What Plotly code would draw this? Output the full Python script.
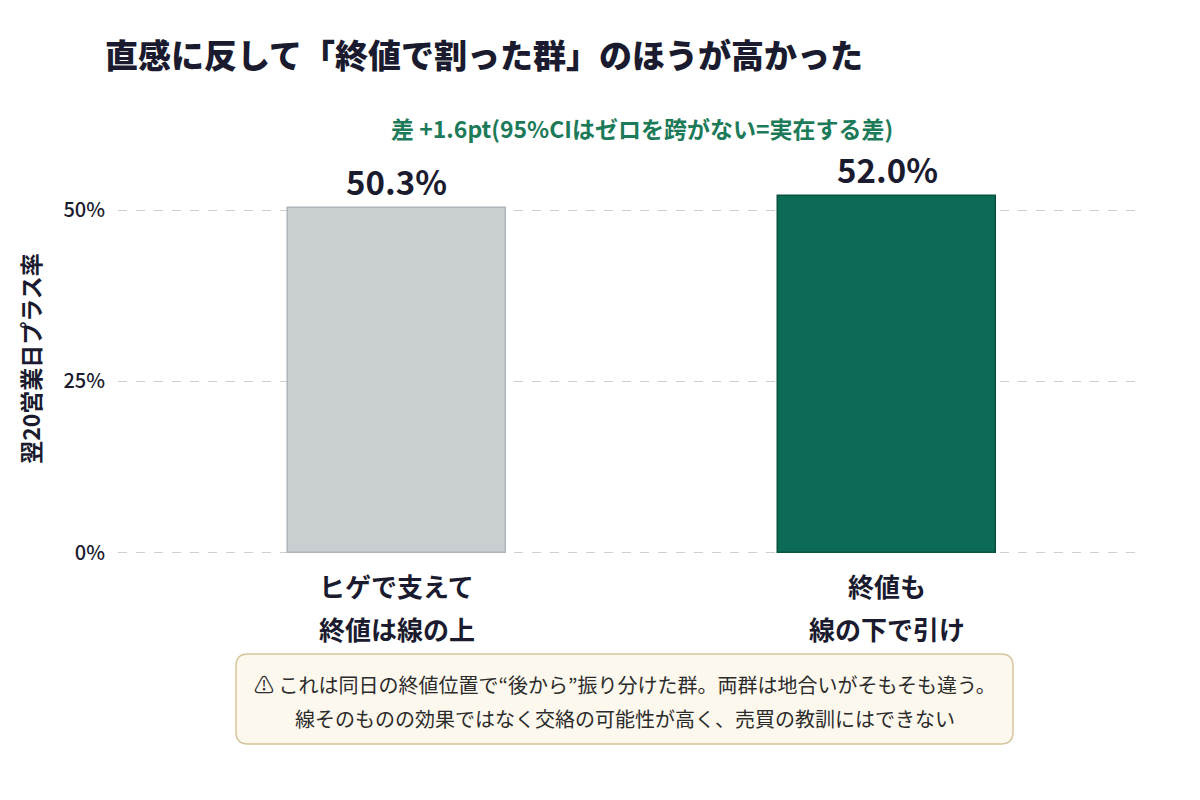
import plotly.graph_objects as go

# ---- data ----
categories = ["ヒゲで支えて\n終値は線の上", "終値も\n線の下で引け"]
values = [50.3, 52.0]
value_labels = ["50.3%", "52.0%"]
y_ticks = [0, 25, 50]
y_tick_labels = ["0%", "25%", "50%"]
title_text = "直感に反して「終値で割った群」のほうが高かった"
diff_text = "差 +1.6pt(95%CIはゼロを跨がない=実在する差)"
y_title = "翌20営業日プラス率"
note_lines = [
    "⚠ これは同日の終値位置で“後から”振り分けた群。両群は地合いがそもそも違う。",
    "線そのものの効果ではなく交絡の可能性が高く、売買の教訓にはできない",
]

# ---- layout geometry ----
W, H = 1200, 800
L, R, T, B = 118, 57, 162, 245
PW, PH = W - L - R, H - T - B
FONT = "Noto Sans CJK JP"
DARK = "#1b1b2f"


def pxx(px):
    return (px - L) / PW


def pxy(py):
    return (H - B - py) / PH


bar_fill = ["#c9ced1", "#0b6b55"]
bar_line = ["#aeb4b8", "#08523f"]
xpos = [0, 1]

fig = go.Figure()
fig.add_trace(go.Bar(
    x=xpos, y=values, width=0.445,
    marker=dict(color=bar_fill, line=dict(color=bar_line, width=1.5)),
    hoverinfo="skip", showlegend=False,
))

annotations = []
# value labels
for x, v, lab in zip(xpos, values, value_labels):
    annotations.append(dict(x=x, y=v, xref="x", yref="y", text=f"<b>{lab}</b>",
                            showarrow=False, yanchor="bottom", yshift=1,
                            font=dict(family=FONT, size=33, color=DARK)))
# category labels (two lines each)
for x, cat in zip(xpos, categories):
    for i, line in enumerate(cat.split("\n")):
        annotations.append(dict(x=x, y=pxy(585 + 43 * i), xref="x", yref="paper",
                                text=f"<b>{line}</b>", showarrow=False,
                                yanchor="middle",
                                font=dict(family=FONT, size=26, color=DARK)))
# difference annotation
annotations.append(dict(x=0.5, y=pxy(128), xref="x", yref="paper",
                        text=f"<b>{diff_text}</b>", showarrow=False, yanchor="middle",
                        font=dict(family=FONT, size=23, color="#1d7a59")))
# title
annotations.append(dict(x=pxx(103), y=pxy(54), xref="paper", yref="paper",
                        text=title_text, showarrow=False,
                        xanchor="left", yanchor="middle",
                        font=dict(family=FONT, size=33, color=DARK, weight=900)))
# note lines
box_l, box_r, box_t, box_b = 236, 1013, 654, 744
for i, line in enumerate(note_lines):
    annotations.append(dict(x=pxx((box_l + box_r) / 2), y=pxy(684 + 34 * i),
                            xref="paper", yref="paper", text=line, showarrow=False,
                            yanchor="middle",
                            font=dict(family=FONT, size=20, color="#2b2b2b")))

w, h, r = box_r - box_l, box_b - box_t, 12
path = (f"M {r},0 L {w-r},0 Q {w},0 {w},{-r} L {w},{-(h-r)} Q {w},{-h} {w-r},{-h} "
        f"L {r},{-h} Q 0,{-h} 0,{-(h-r)} L 0,{-r} Q 0,0 {r},0 Z")
shapes = [dict(type="path", xref="paper", yref="paper",
               xsizemode="pixel", ysizemode="pixel",
               xanchor=pxx(box_l), yanchor=pxy(box_t), path=path,
               fillcolor="#fdf8ee", line=dict(color="#d6c59c", width=1.5),
               layer="below")]

fig.update_layout(
    width=W, height=H,
    margin=dict(l=L, r=R, t=T, b=B, pad=0),
    paper_bgcolor="white", plot_bgcolor="white",
    font=dict(family=FONT, color=DARK),
    annotations=annotations, shapes=shapes,
    xaxis=dict(range=[-0.5685, 1.5215], showticklabels=False, showgrid=False,
               zeroline=False, showline=False, ticks=""),
    yaxis=dict(range=[-0.3, 57], tickvals=y_ticks, ticktext=y_tick_labels,
               tickfont=dict(family=FONT, size=20, color=DARK, weight=500),
               ticklabelstandoff=12,
               showgrid=True, gridcolor="#cfcfcf", griddash="dash", gridwidth=1,
               zeroline=False, showline=False, ticks="",
               title=dict(text=f"<b>{y_title}</b>", standoff=16,
                          font=dict(family=FONT, size=23, color=DARK))),
    bargap=0,
)

fig.write_html("out.html")
